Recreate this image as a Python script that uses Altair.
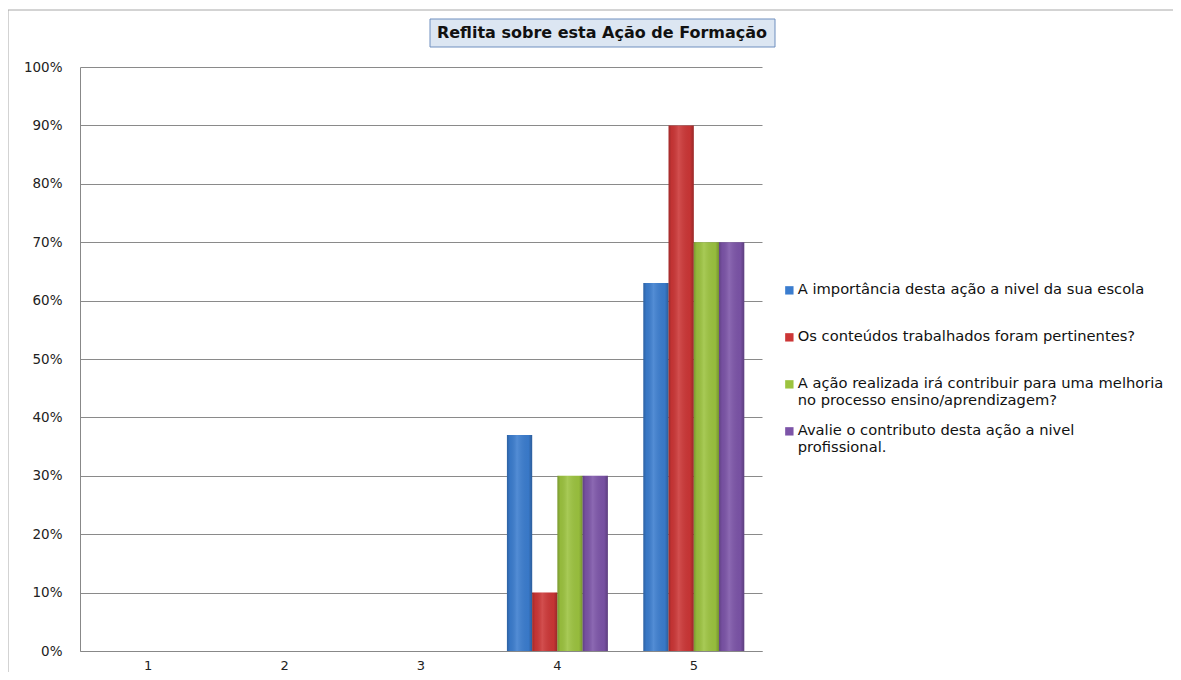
import altair as alt
import pandas as pd

# ---- data ----
categories = ["1", "2", "3", "4", "5"]
series = [
    "A importância desta ação a nivel da sua escola",
    "Os conteúdos trabalhados foram pertinentes?",
    "A ação realizada irá contribuir para uma melhoria no processo ensino/aprendizagem?",
    "Avalie o contributo desta ação a nivel profissional.",
]
legend_lines = [
    ["A importância desta ação a nivel da sua escola", " "],
    ["Os conteúdos trabalhados foram pertinentes?", " "],
    ["A ação realizada irá contribuir para uma melhoria", "no processo ensino/aprendizagem?"],
    ["Avalie o contributo desta ação a nivel", "profissional."],
]
values_s1 = [0, 0, 0, 0.37, 0.63]
values_s2 = [0, 0, 0, 0.10, 0.90]
values_s3 = [0, 0, 0, 0.30, 0.70]
values_s4 = [0, 0, 0, 0.30, 0.70]
colors = ["#3b7dcf", "#cc3636", "#9cc33f", "#7c54a8"]
y_ticks = [0, 0.1, 0.2, 0.3, 0.4, 0.5, 0.6, 0.7, 0.8, 0.9, 1.0]
title_text = "Reflita sobre esta Ação de Formação"

rows = []
for s, vals in zip(series, [values_s1, values_s2, values_s3, values_s4]):
    for c, v in zip(categories, vals):
        rows.append({"cat": c, "series": s, "value": v})
df = pd.DataFrame(rows)

# legend label expression (multi-line)
expr = "datum.label"
for s, lines in reversed(list(zip(series, legend_lines))):
    arr = "[" + ", ".join("'" + l + "'" for l in lines) + "]"
    expr = f"datum.label == '{s}' ? {arr} : ({expr})"

FONT = "DejaVu Sans"

x_enc = alt.X("cat:N", sort=categories, title=None,
              scale=alt.Scale(paddingInner=0.26, paddingOuter=0.13),
              axis=alt.Axis(labelAngle=0, ticks=False, labelPadding=8,
                            domainColor="#888888", labelFontSize=13,
                            labelColor="#222222", labelFont=FONT))
xo_enc = alt.XOffset("series:N", sort=series, scale=alt.Scale(paddingInner=0))
y_enc = alt.Y("value:Q", title=None, scale=alt.Scale(domain=[0, 1]),
              axis=alt.Axis(format="%", values=y_ticks, ticks=False, labelPadding=18,
                            gridColor="#8a8a8a", domainColor="#888888",
                            labelFontSize=13.5, labelColor="#222222", labelFont=FONT))

bars = alt.Chart(df).mark_bar().encode(
    x=x_enc, xOffset=xo_enc, y=y_enc,
    color=alt.Color("series:N", sort=series,
                    scale=alt.Scale(domain=series, range=colors),
                    legend=alt.Legend(title=None, orient="none", legendX=702, legendY=216,
                                      symbolType="square", symbolSize=70,
                                      symbolStrokeWidth=0, labelExpr=expr,
                                      labelFontSize=14.7, labelFont=FONT,
                                      labelColor="#111111", labelLimit=500,
                                      labelOffset=1, rowPadding=15)),
)

# 3D-like shading overlay
shade = alt.Chart(df).mark_bar(
    color=alt.Gradient(
        gradient="linear", x1=0, x2=1, y1=0, y2=0,
        stops=[
            alt.GradientStop(offset=0, color="rgba(0,0,0,0.22)"),
            alt.GradientStop(offset=0.12, color="rgba(0,0,0,0.05)"),
            alt.GradientStop(offset=0.4, color="rgba(255,255,255,0.12)"),
            alt.GradientStop(offset=0.85, color="rgba(0,0,0,0.04)"),
            alt.GradientStop(offset=1, color="rgba(0,0,0,0.25)"),
        ],
    )
).encode(x=x_enc, xOffset=xo_enc, y=y_enc)

tdf = pd.DataFrame({"t": [title_text]})
title_box = alt.Chart(tdf).mark_rect(
    fill="#dce6f2", stroke="#6f8fbf", strokeWidth=1
).encode(x=alt.value(350), x2=alt.value(695), y=alt.value(-48), y2=alt.value(-20))
title_txt = alt.Chart(tdf).mark_text(
    font=FONT, fontSize=16, fontWeight="bold", color="#111111",
    align="center", baseline="middle"
).encode(text="t:N", x=alt.value(522), y=alt.value(-34))

border_top = alt.Chart(tdf).mark_rule(color="#a8a8a8").encode(
    x=alt.value(-72), x2=alt.value(1200), y=alt.value(-57))
border_left = alt.Chart(tdf).mark_rule(color="#a8a8a8").encode(
    x=alt.value(-72), y=alt.value(-57), y2=alt.value(700))

chart = alt.layer(border_top, border_left, bars, shade, title_box, title_txt).properties(
    width=682, height=584,
    autosize=alt.AutoSizeParams(type="none"),
    padding={"left": 72, "top": 59, "right": 411, "bottom": 21},
    background="white",
).configure_view(stroke=None)

chart.save("out.html", embed_options={"renderer": "svg", "actions": False})
